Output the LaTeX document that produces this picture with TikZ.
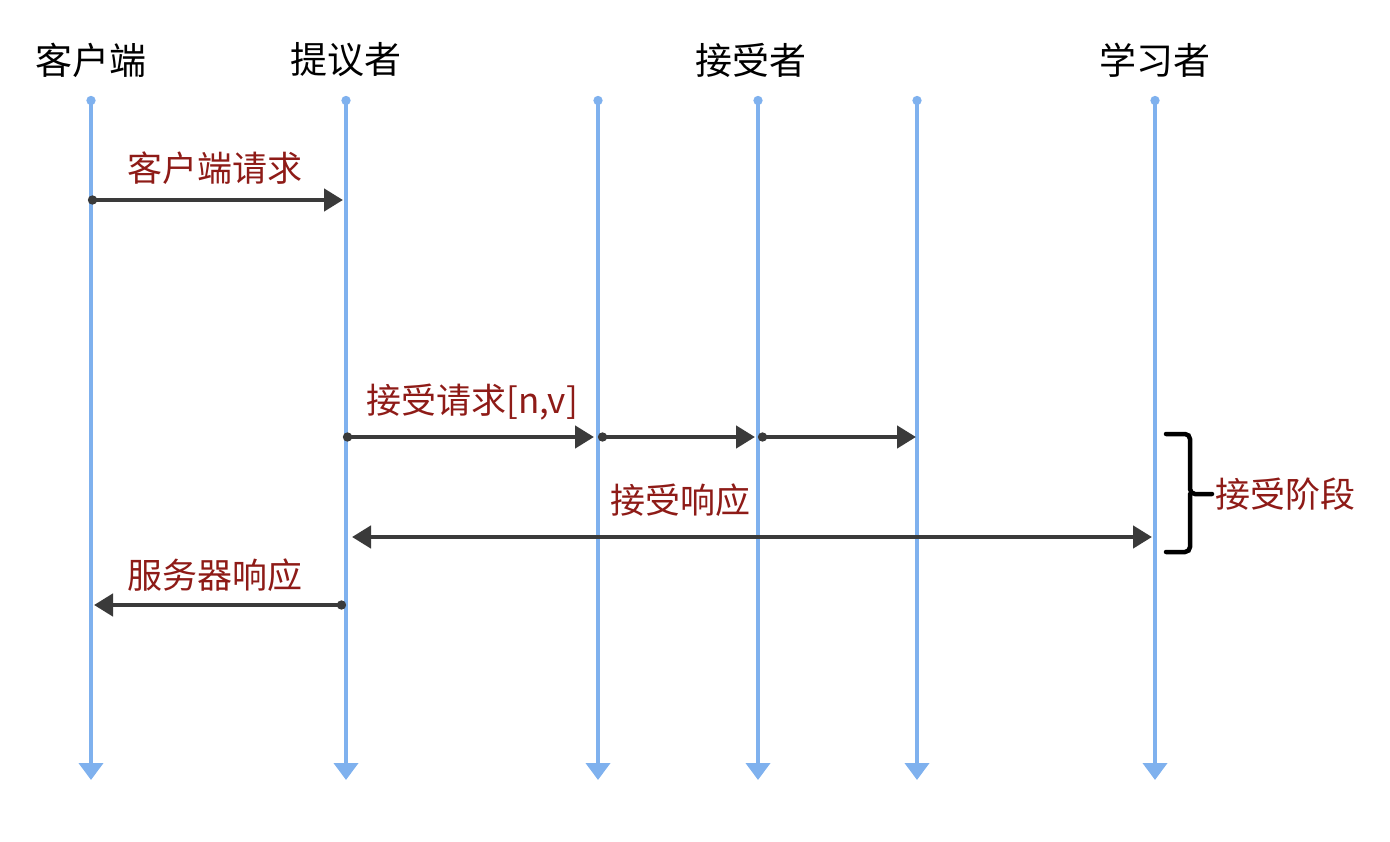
\documentclass[tikz,border=0pt]{standalone}
\usepackage{fontspec}
\newfontfamily\cjk{Noto Sans CJK SC}
\usetikzlibrary{arrows.meta}
\definecolor{lifeblue}{HTML}{7FB1EE}
\definecolor{msgred}{HTML}{8E1B17}
\definecolor{msggray}{HTML}{3A3A3A}

\begin{document}
\begin{tikzpicture}[x=1pt,y=-1pt,
  life/.style={draw=lifeblue,line width=4pt,{Circle[length=9pt]}-{Triangle[width=24pt,length=17pt]}},
  msg/.style={draw=msggray,line width=4.5pt,{Circle[length=9pt]}-{Triangle[width=22pt,length=19pt]}},
  both/.style={draw=msggray,line width=4.5pt,{Triangle[width=22pt,length=19pt]}-{Triangle[width=22pt,length=19pt]}},
  head/.style={font=\cjk\fontsize{37}{40}\selectfont},
  tag/.style={font=\cjk\fontsize{35}{38}\selectfont,text=msgred}]
  \useasboundingbox (0,0) rectangle (1390,842);

  % lifelines
  \foreach \n/\x in {1/91,2/346,3/598,4/758,5/917,6/1155}{
    \coordinate (t\n) at (\x,96);
    \coordinate (b\n) at (\x,780);
    \draw[life] (t\n) -- (b\n);
  }

  \node[head] (c) at (91,60) {客户端};
  \node[head] (p) at (346,60) {提议者};
  \node[head] (a) at (751,60) {接受者};
  \node[head] (l) at (1155,60) {学习者};

  % message ends
  \coordinate (m1) at (88,200);
  \coordinate (m2) at (343,200);
  \coordinate (m3) at (343,437);
  \coordinate (m4) at (594,437);
  \coordinate (m5) at (598,437);
  \coordinate (m6) at (755,437);
  \coordinate (m7) at (758,437);
  \coordinate (m8) at (916,437);
  \coordinate (m9) at (352,537);
  \coordinate (m10) at (1152,537);
  \coordinate (m11) at (346,605);
  \coordinate (m12) at (94,605);

  \draw[msg] (m1) -- (m2);
  \draw[msg] (m3) -- (m4);
  \draw[msg] (m5) -- (m6);
  \draw[msg] (m7) -- (m8);
  \draw[both] (m9) -- (m10);
  \draw[msg] (m11) -- (m12);

  \node[tag] (r1) at (215,168) {客户端请求};
  \node[tag] (r2) at (472,402) {接受请求[n,v]};
  \node[tag] (r3) at (680,500) {接受响应};
  \node[tag] (r4) at (215,575) {服务器响应};

  % phase brace
  \coordinate (g1) at (1166,434);
  \coordinate (g2) at (1166,552);
  \coordinate (g3) at (1212,494);
  \draw[draw=black,line width=4.5pt,line cap=round,rounded corners=5pt]
    (g1) -| (1190,494) -- (g3) (1190,494) |- (g2);
  \node[tag,anchor=west] (r5) at (1212,494) {接受阶段};
\end{tikzpicture}
\end{document}
